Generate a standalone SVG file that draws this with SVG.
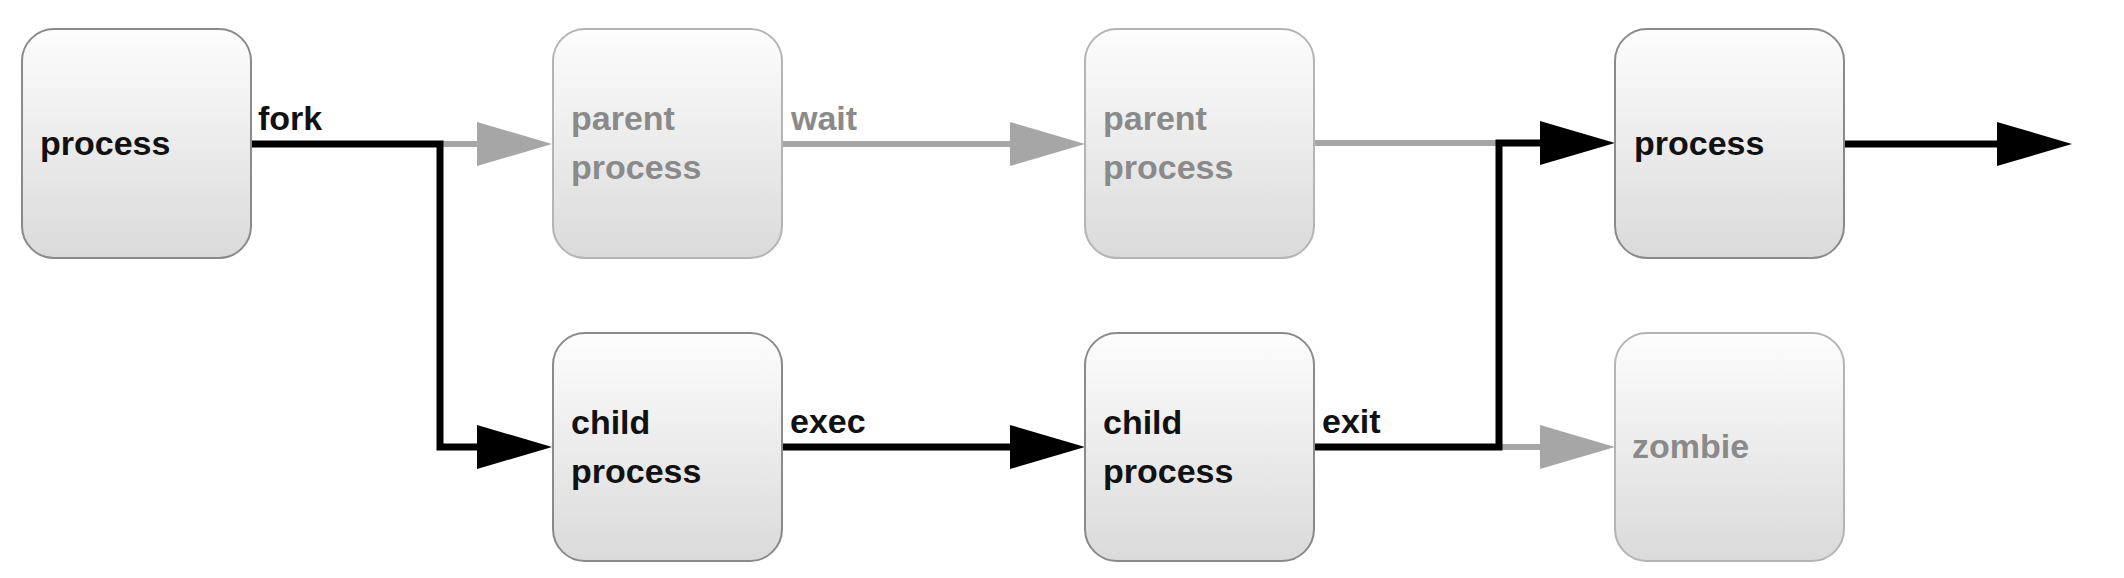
<svg xmlns="http://www.w3.org/2000/svg" width="2124" height="578" viewBox="0 0 2124 578">
<defs>
<linearGradient id="g" x1="0" y1="0" x2="0" y2="1">
<stop offset="0" stop-color="#fdfdfd"/>
<stop offset="1" stop-color="#dadada"/>
</linearGradient>
<marker id="ab" markerUnits="userSpaceOnUse" markerWidth="76" markerHeight="44" refX="0" refY="22" orient="auto" overflow="visible">
<path d="M0,0 L75,22 L0,44 z" fill="#000"/>
</marker>
<marker id="ag" markerUnits="userSpaceOnUse" markerWidth="76" markerHeight="44" refX="0" refY="22" orient="auto" overflow="visible">
<path d="M0,0 L75,22 L0,44 z" fill="#a6a6a6"/>
</marker>
<style>
.box{fill:url(#g);stroke:#8a8a8a;stroke-width:2}
.box.dim{stroke:#b4b4b4}
text{font-family:"Liberation Sans",Arial,sans-serif;font-weight:bold;font-size:34px}
.t{fill:#111}
.td{fill:#8a8a8a}
.lb{fill:none;stroke:#000;stroke-width:7}
.lg{fill:none;stroke:#a6a6a6;stroke-width:6}
</style>
</defs>
<rect width="2124" height="578" fill="#fff"/>
<g id="connectors">
<path class="lg" d="M443,144 H477" marker-end="url(#ag)"/>
<path class="lb" d="M251,144 H440 V447 H477" marker-end="url(#ab)"/>
<path class="lg" d="M782,144 H1010" marker-end="url(#ag)"/>
<path class="lb" d="M782,447 H1010" marker-end="url(#ab)"/>
<path class="lg" d="M1313,143 H1499"/>
<path class="lg" d="M1502,447 H1540" marker-end="url(#ag)"/>
<path class="lb" d="M1313,447 H1499 V143 H1540" marker-end="url(#ab)"/>
<path class="lb" d="M1845,144 H1997" marker-end="url(#ab)"/>
<text class="t" x="258" y="130">fork</text>
<text class="td" x="791" y="130">wait</text>
<text class="t" x="790" y="433">exec</text>
<text class="t" x="1322" y="433">exit</text>
</g>
<g id="n-process1">
<rect class="box" x="22" y="29" width="229" height="229" rx="32"/>
<text class="t" x="40" y="155">process</text>
</g>
<g id="n-parent1">
<rect class="box dim" x="553" y="29" width="229" height="229" rx="32"/>
<text class="td" x="571" y="130">parent</text>
<text class="td" x="571" y="179">process</text>
</g>
<g id="n-parent2">
<rect class="box dim" x="1085" y="29" width="229" height="229" rx="32"/>
<text class="td" x="1103" y="130">parent</text>
<text class="td" x="1103" y="179">process</text>
</g>
<g id="n-process2">
<rect class="box" x="1615" y="29" width="229" height="229" rx="32"/>
<text class="t" x="1634" y="155">process</text>
</g>
<g id="n-child1">
<rect class="box" x="553" y="333" width="229" height="228" rx="32"/>
<text class="t" x="571" y="434">child</text>
<text class="t" x="571" y="483">process</text>
</g>
<g id="n-child2">
<rect class="box" x="1085" y="333" width="229" height="228" rx="32"/>
<text class="t" x="1103" y="434">child</text>
<text class="t" x="1103" y="483">process</text>
</g>
<g id="n-zombie">
<rect class="box dim" x="1615" y="333" width="229" height="228" rx="32"/>
<text class="td" x="1632" y="458">zombie</text>
</g>
</svg>
